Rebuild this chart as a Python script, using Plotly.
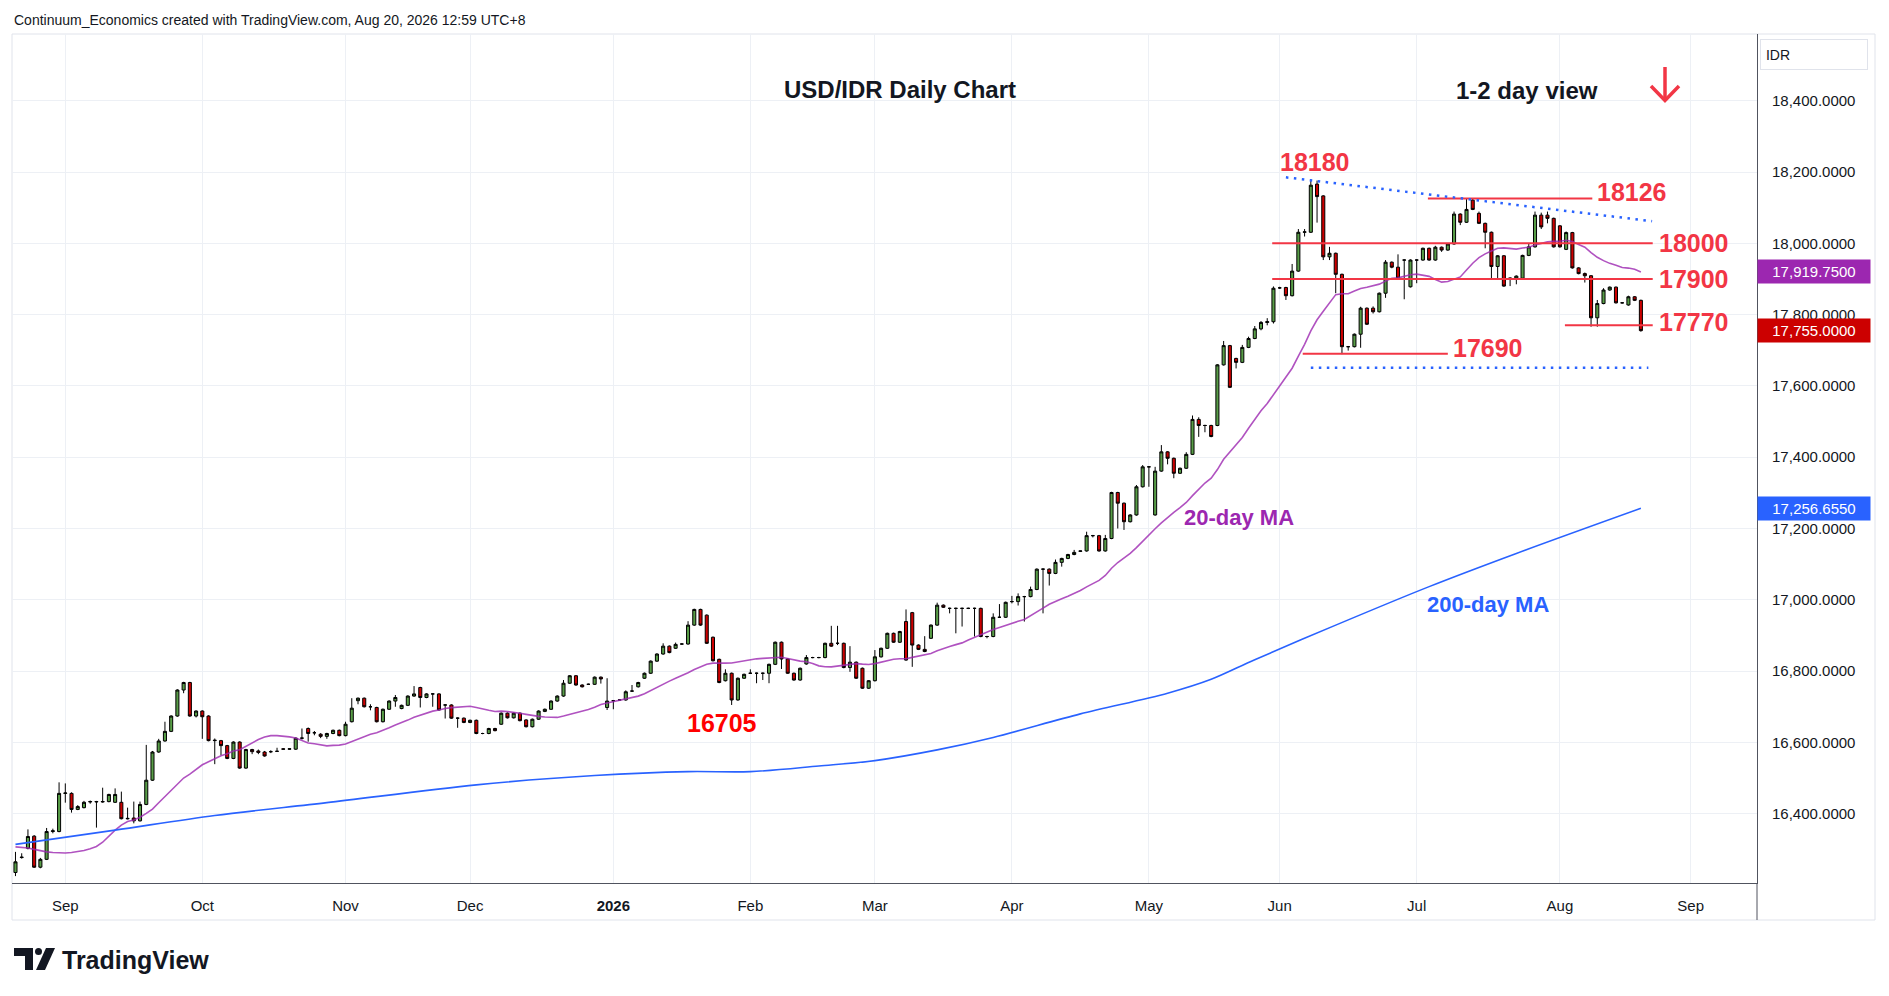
import numpy as np
import pandas as pd
import plotly.graph_objects as go

# ---------------- data ----------------
dates = pd.bdate_range("2025-08-20", periods=262)

opens = [
    16235, 16277, 16303, 16337, 16250, 16272, 16350, 16350, 16457, 16457,
    16412, 16417, 16433, 16433, 16433, 16434, 16432, 16432, 16387, 16388,
    16380, 16426, 16494, 16573, 16604, 16631, 16674, 16747, 16768, 16674,
    16688, 16674, 16605, 16605, 16591, 16555, 16601, 16528, 16580, 16576,
    16573, 16574, 16575, 16582, 16581, 16581, 16612, 16639, 16627, 16623,
    16617, 16625, 16634, 16619, 16658, 16717, 16724, 16700, 16698, 16658,
    16693, 16716, 16695, 16704, 16730, 16754, 16726, 16736, 16736, 16705,
    16705, 16668, 16668, 16656, 16662, 16625, 16625, 16639, 16651, 16682,
    16669, 16682, 16663, 16644, 16665, 16687, 16693, 16716, 16730, 16766,
    16787, 16761, 16763, 16763, 16783, 16698, 16717, 16719, 16719, 16744,
    16756, 16780, 16794, 16828, 16848, 16870, 16864, 16876, 16876, 16929,
    16973, 16957, 16895, 16833, 16773, 16794, 16719, 16780, 16794, 16794,
    16794, 16794, 16819, 16881, 16834, 16794, 16775, 16820, 16838, 16838,
    16838, 16878, 16878, 16878, 16810, 16825, 16808, 16752, 16773, 16840,
    16864, 16906, 16881, 16939, 16964, 16873, 16861, 16892, 16929, 16985,
    16976, 16976, 16976, 16976, 16976, 16976, 16897, 16897, 16951, 16951,
    16995, 16995, 17009, 17009, 17029, 17086, 17086, 17074, 17105, 17116,
    17127, 17136, 17137, 17180, 17180, 17137, 17172, 17301, 17271, 17219,
    17238, 17317, 17373, 17238, 17361, 17415, 17397, 17355, 17369, 17408,
    17506, 17489, 17489, 17489, 17659, 17713, 17677, 17666, 17708, 17733,
    17760, 17778, 17780, 17875, 17876, 17853, 17922, 18031, 18031, 18166,
    18133, 17962, 17972, 17913, 17710, 17710, 17745, 17818, 17818, 17808,
    17860, 17947, 17933, 17953, 17878, 17953, 17953, 17986, 17953, 17989,
    17981, 17998, 18082, 18059, 18121, 18084, 18056, 18031, 17935, 17965,
    17902, 17902, 17902, 17966, 17990, 18079, 18079, 18070, 18049, 17983,
    18030, 17931, 17915, 17909, 17791, 17831, 17869, 17877, 17833, 17827,
    17850, 17840,
]
highs = [
    16293, 16289, 16356, 16340, 16276, 16360, 16358, 16488, 16485, 16460,
    16424, 16436, 16437, 16436, 16473, 16456, 16471, 16462, 16417, 16434,
    16434, 16593, 16576, 16610, 16658, 16676, 16749, 16770, 16770, 16690,
    16690, 16676, 16611, 16607, 16593, 16603, 16603, 16582, 16582, 16580,
    16576, 16578, 16585, 16584, 16583, 16614, 16639, 16642, 16632, 16626,
    16627, 16636, 16636, 16658, 16724, 16726, 16726, 16707, 16700, 16695,
    16718, 16733, 16706, 16732, 16758, 16756, 16738, 16738, 16738, 16707,
    16707, 16670, 16670, 16664, 16664, 16627, 16641, 16641, 16684, 16684,
    16684, 16684, 16665, 16667, 16690, 16695, 16718, 16732, 16775, 16789,
    16789, 16763, 16765, 16785, 16785, 16780, 16719, 16721, 16746, 16761,
    16770, 16796, 16830, 16850, 16878, 16872, 16880, 16878, 16940, 16975,
    16975, 16959, 16897, 16835, 16805, 16796, 16782, 16793, 16805, 16796,
    16796, 16821, 16883, 16883, 16836, 16796, 16810, 16845, 16840, 16840,
    16880, 16927, 16927, 16880, 16870, 16827, 16810, 16775, 16859, 16866,
    16908, 16908, 16913, 16973, 16966, 16875, 16898, 16931, 16992, 16987,
    16978, 16978, 16978, 16978, 16978, 16978, 16899, 16962, 16988, 16995,
    17011, 17018, 17011, 17037, 17088, 17088, 17088, 17113, 17118, 17129,
    17140, 17138, 17191, 17182, 17182, 17182, 17303, 17303, 17273, 17240,
    17322, 17378, 17375, 17373, 17434, 17417, 17399, 17371, 17414, 17517,
    17512, 17491, 17491, 17661, 17726, 17715, 17679, 17715, 17738, 17768,
    17782, 17790, 17879, 17878, 17878, 17942, 18040, 18040, 18180, 18176,
    18135, 17990, 17974, 17915, 17712, 17747, 17822, 17820, 17823, 17862,
    17953, 17949, 17969, 17955, 17955, 17955, 17988, 17988, 17993, 17991,
    18000, 18089, 18084, 18124, 18126, 18089, 18058, 18033, 17967, 17967,
    17904, 17910, 17968, 18000, 18089, 18086, 18089, 18072, 18051, 18033,
    18032, 17933, 17918, 17911, 17841, 17874, 17879, 17879, 17835, 17853,
    17852, 17842,
]
lows = [
    16225, 16274, 16300, 16248, 16247, 16270, 16345, 16348, 16431, 16403,
    16410, 16415, 16428, 16361, 16431, 16432, 16430, 16384, 16384, 16373,
    16378, 16424, 16492, 16571, 16602, 16629, 16672, 16738, 16672, 16670,
    16610, 16603, 16539, 16564, 16553, 16553, 16526, 16526, 16567, 16567,
    16560, 16570, 16573, 16580, 16579, 16579, 16608, 16602, 16620, 16612,
    16610, 16623, 16617, 16617, 16656, 16707, 16698, 16690, 16656, 16656,
    16691, 16700, 16693, 16702, 16728, 16698, 16724, 16700, 16689, 16667,
    16666, 16641, 16654, 16654, 16623, 16623, 16623, 16631, 16649, 16667,
    16667, 16659, 16642, 16642, 16663, 16685, 16691, 16714, 16728, 16764,
    16759, 16754, 16761, 16761, 16765, 16691, 16693, 16717, 16717, 16742,
    16754, 16778, 16792, 16826, 16846, 16850, 16862, 16874, 16874, 16927,
    16927, 16876, 16827, 16766, 16771, 16705, 16717, 16778, 16792, 16766,
    16775, 16766, 16817, 16806, 16792, 16773, 16773, 16818, 16836, 16836,
    16836, 16868, 16873, 16808, 16798, 16778, 16750, 16750, 16771, 16838,
    16862, 16879, 16879, 16829, 16812, 16859, 16853, 16890, 16927, 16977,
    16962, 16906, 16925, 16974, 16897, 16895, 16892, 16895, 16949, 16949,
    16990, 16984, 16939, 17007, 17027, 16962, 17040, 17072, 17093, 17114,
    17125, 17134, 17135, 17175, 17135, 17135, 17170, 17200, 17196, 17217,
    17236, 17315, 17317, 17236, 17359, 17380, 17341, 17353, 17367, 17406,
    17457, 17470, 17456, 17487, 17657, 17594, 17649, 17664, 17706, 17731,
    17756, 17770, 17775, 17872, 17841, 17851, 17920, 18019, 18029, 18058,
    17953, 17953, 17860, 17689, 17699, 17708, 17707, 17771, 17803, 17806,
    17847, 17930, 17900, 17843, 17876, 17888, 17951, 17951, 17951, 17976,
    17979, 17996, 18051, 18057, 18093, 18054, 17986, 17900, 17900, 17878,
    17880, 17885, 17900, 17964, 17988, 18040, 18056, 17988, 17988, 17981,
    17929, 17913, 17890, 17766, 17766, 17829, 17867, 17831, 17831, 17825,
    17838, 17752,
]
closes = [
    16265, 16278, 16336, 16250, 16272, 16350, 16352, 16457, 16458, 16412,
    16420, 16432, 16434, 16434, 16434, 16454, 16454, 16386, 16386, 16380,
    16426, 16494, 16573, 16604, 16631, 16674, 16747, 16768, 16674, 16688,
    16672, 16605, 16606, 16591, 16555, 16601, 16528, 16580, 16574, 16572,
    16562, 16574, 16575, 16581, 16582, 16612, 16612, 16625, 16627, 16617,
    16625, 16634, 16619, 16651, 16696, 16724, 16700, 16700, 16658, 16693,
    16716, 16726, 16704, 16730, 16736, 16726, 16736, 16736, 16691, 16705,
    16668, 16668, 16656, 16662, 16625, 16625, 16639, 16633, 16682, 16669,
    16682, 16661, 16644, 16665, 16688, 16693, 16716, 16730, 16766, 16787,
    16761, 16756, 16763, 16783, 16778, 16716, 16717, 16719, 16742, 16744,
    16768, 16794, 16828, 16848, 16870, 16852, 16875, 16876, 16929, 16973,
    16929, 16878, 16829, 16768, 16794, 16719, 16780, 16791, 16794, 16794,
    16794, 16819, 16881, 16834, 16794, 16775, 16808, 16838, 16838, 16838,
    16878, 16870, 16878, 16810, 16825, 16780, 16752, 16773, 16840, 16864,
    16906, 16881, 16911, 16831, 16873, 16861, 16855, 16929, 16985, 16979,
    16976, 16976, 16976, 16976, 16976, 16897, 16897, 16951, 16951, 16993,
    16995, 17009, 17009, 17029, 17086, 17086, 17074, 17105, 17116, 17127,
    17133, 17137, 17180, 17180, 17137, 17172, 17301, 17271, 17219, 17238,
    17317, 17373, 17373, 17361, 17415, 17397, 17355, 17369, 17408, 17506,
    17489, 17489, 17458, 17659, 17713, 17596, 17666, 17708, 17733, 17760,
    17778, 17780, 17874, 17875, 17853, 17922, 18031, 18032, 18163, 18131,
    17962, 17972, 17913, 17710, 17710, 17745, 17818, 17773, 17808, 17860,
    17947, 17933, 17902, 17953, 17953, 17953, 17986, 17953, 17989, 17981,
    17998, 18082, 18059, 18095, 18095, 18056, 18031, 17935, 17965, 17880,
    17902, 17908, 17966, 17990, 18079, 18046, 18070, 17990, 17990, 18030,
    17931, 17915, 17909, 17791, 17831, 17869, 17877, 17833, 17833, 17850,
    17840, 17755,
]

# 20-day MA values for the first 19 bars (history not shown)
ma20_early = [16307, 16306, 16304, 16300, 16296, 16293, 16291, 16290, 16290, 16291,
              16293, 16297, 16302, 16308, 16320, 16337, 16354, 16368, 16378]

# 200-day MA (bar number, value)
ma200_bar = [0, 16, 32, 50, 74, 93, 108, 118, 129, 138, 148, 157, 171, 185, 192, 199, 212, 227, 241, 261]
ma200_val = [16314, 16354, 16395, 16431, 16481, 16507, 16518, 16518, 16534, 16549,
             16579, 16614, 16680, 16738, 16777, 16832, 16929, 17037, 17130, 17256.655]

# key levels
levels = [18126, 18000, 17900, 17770, 17690]
level_labels = ["18126", "18000", "17900", "17770", "17690"]
y_ticks = [16400, 16600, 16800, 17000, 17200, 17400, 17600, 17800, 18000, 18200, 18400]

# ---------------- helpers ----------------
n = len(closes)
xi = np.arange(n)
closes_s = pd.Series(closes, dtype=float)
ma20 = closes_s.rolling(20).mean().to_numpy()
ma20[:19] = ma20_early

# month tick positions (first business day of each month)
ext = pd.bdate_range("2025-08-20", "2026-09-30")
tick_vals, tick_text = [], []
prev = None
for k, d in enumerate(ext):
    if k == 0:
        prev = d.month
        continue
    if d.month != prev:
        tick_vals.append(k)
        tick_text.append("<b>2026</b>" if (d.month == 1) else d.strftime("%b"))
        prev = d.month

# layout geometry (screen pixels -> paper)
SX0, SX1, SY0, SY1 = 12, 1757, 34, 883
def px(sx):
    return (sx - SX0) / (SX1 - SX0)
def py(sy):
    return (SY1 - sy) / (SY1 - SY0)

X0_BAR, BAR_W = 15.48, 6.2276
def bx(sx):
    return (sx - X0_BAR) / BAR_W

FONT = "Liberation Sans"
RED = "#f23645"
PURPLE = "#9c27b0"
BLUE = "#2962ff"
INK = "#131722"

fig = go.Figure()
fig.add_trace(go.Candlestick(
    x=xi, open=opens, high=highs, low=lows, close=closes,
    increasing=dict(line=dict(color="#000000", width=1), fillcolor="#589d47"),
    decreasing=dict(line=dict(color="#000000", width=1), fillcolor="#cc0000"),
    whiskerwidth=0, showlegend=False, hoverinfo="skip",
))
fig.add_trace(go.Scatter(x=xi, y=ma20, mode="lines",
                         line=dict(color="rgba(156,39,176,0.8)", width=1.6),
                         showlegend=False, hoverinfo="skip"))
fig.add_trace(go.Scatter(x=ma200_bar, y=ma200_val, mode="lines",
                         line=dict(color=BLUE, width=1.6, shape="spline", smoothing=0.9),
                         showlegend=False, hoverinfo="skip"))

shapes = []
# horizontal key levels
level_spans = {18126: (226.8, 253.2), 18000: (201.8, 262.9), 17900: (201.8, 262.9),
               17770: (248.8, 262.9), 17690: (206.7, 230.0)}
for lv in levels:
    a, b = level_spans[lv]
    shapes.append(dict(type="line", xref="x", yref="y", x0=a, x1=b, y0=lv, y1=lv,
                       line=dict(color=RED, width=2)))
# dotted trend line and dotted support
shapes.append(dict(type="line", xref="x", yref="y", x0=204.0, y0=18185, x1=262.8, y1=18062,
                   line=dict(color=BLUE, width=2.5, dash="2.5px,5.5px")))
shapes.append(dict(type="line", xref="x", yref="y", x0=208.0, y0=17651, x1=262.2, y1=17651,
                   line=dict(color=BLUE, width=2.5, dash="2.5px,5.5px")))
# outer frame and separators
shapes.append(dict(type="rect", xref="paper", yref="paper", x0=0, x1=px(1875), y0=py(920), y1=1,
                   line=dict(color="#e0e3eb", width=1), layer="below"))
shapes.append(dict(type="line", xref="paper", yref="paper", x0=1, x1=1, y0=py(920), y1=0,
                   line=dict(color="#50535e", width=1)))
# down arrow
shapes.append(dict(type="line", xref="paper", yref="paper", x0=px(1665), x1=px(1665),
                   y0=py(67), y1=py(100), line=dict(color=RED, width=3.5)))
shapes.append(dict(type="path", xref="paper", yref="paper",
                   path=f"M {px(1651)},{py(86)} L {px(1665)},{py(100.5)} L {px(1679)},{py(86)}",
                   line=dict(color=RED, width=3.5)))
# TradingView logo glyph
shapes.append(dict(type="path", xref="paper", yref="paper", fillcolor=INK, line=dict(width=0),
                   path=(f"M {px(14)},{py(948)} L {px(33)},{py(948)} L {px(33)},{py(970)} "
                         f"L {px(25)},{py(970)} L {px(25)},{py(956)} L {px(14)},{py(956)} Z")))
shapes.append(dict(type="circle", xref="paper", yref="paper", fillcolor=INK, line=dict(width=0),
                   x0=px(35), x1=px(42), y0=py(955), y1=py(948)))
shapes.append(dict(type="path", xref="paper", yref="paper", fillcolor=INK, line=dict(width=0),
                   path=f"M {px(46)},{py(948)} L {px(55)},{py(948)} L {px(45)},{py(970)} L {px(36)},{py(970)} Z"))

ann = []
def label(text, x, y, color, size, xref="x", yref="y", bold=True, xanchor="center"):
    ann.append(dict(text=f"<b>{text}</b>" if bold else text, x=x, y=y, xref=xref, yref=yref,
                    showarrow=False, xanchor=xanchor, yanchor="middle",
                    font=dict(family=FONT, size=size, color=color)))

label("18180", bx(1315), 18228, RED, 25)
label("18126", bx(1632), 18144, RED, 25)
label("18000", bx(1694), 18000, RED, 25)
label("17900", bx(1694), 17900, RED, 25)
label("17770", bx(1694), 17778, RED, 25)
label("17690", bx(1488), 17705, RED, 25)
label("16705", bx(722), 16654, "#ff0000", 25)
label("20-day MA", bx(1239), 17232, PURPLE, 22)
label("200-day MA", bx(1488), 16986, BLUE, 22)
label("USD/IDR Daily Chart", px(900), py(89), INK, 24, "paper", "paper")
label("1-2 day view", px(1527), py(90), INK, 24, "paper", "paper")
label("Continuum_Economics created with TradingView.com, Aug 20, 2026 12:59 UTC+8",
      0, py(20), INK, 14, "paper", "paper", bold=False, xanchor="left")
label("TradingView", px(60), py(960), INK, 25, "paper", "paper", xanchor="left")

# IDR box
ann.append(dict(text="&nbsp;IDR", x=px(1760), y=py(54.5), xref="paper", yref="paper",
                showarrow=False, xanchor="left", yanchor="middle", align="left",
                width=104, height=27, bordercolor="#e0e3eb", borderwidth=1, borderpad=1,
                font=dict(family=FONT, size=14, color=INK), bgcolor="white"))
# price tags on the axis
for val, col in [(ma20[-1], PURPLE), (closes[-1], "#cc0000"), (ma200_val[-1], BLUE)]:
    ann.append(dict(text=f"{val:,.4f}", x=1.0, y=val, xref="paper", yref="y",
                    showarrow=False, xanchor="left", yanchor="middle", align="center",
                    width=110, height=21, borderpad=1, bgcolor=col,
                    font=dict(family=FONT, size=15, color="white")))

fig.update_layout(
    width=1873, height=980,
    margin=dict(l=SX0 - 8, r=1873 - (SX1 - 8), t=SY0 - 8, b=980 - (SY1 - 8), pad=0),
    paper_bgcolor="white", plot_bgcolor="white",
    font=dict(family=FONT, color=INK),
    shapes=shapes, annotations=ann,
    xaxis=dict(range=[bx(SX0), bx(SX1)], tickvals=tick_vals, ticktext=tick_text,
               showgrid=True, gridcolor="#edf0f5", gridwidth=1, zeroline=False,
               showline=True, linecolor="#50535e", linewidth=1, ticks="",
               tickfont=dict(size=15, color=INK), rangeslider=dict(visible=False),
               ticklabelstandoff=9, fixedrange=True),
    yaxis=dict(range=[18000 - (SY1 - 243.3) * 2.805, 18000 - (SY0 - 243.3) * 2.805],
               side="right", tickvals=y_ticks, tickformat=",.4f",
               showgrid=True, gridcolor="#edf0f5", gridwidth=1, zeroline=False,
               showline=True, linecolor="#50535e", linewidth=1, ticks="",
               tickfont=dict(size=15, color=INK), ticklabelstandoff=11, fixedrange=True),
    showlegend=False,
)

fig.write_html("out.html")
